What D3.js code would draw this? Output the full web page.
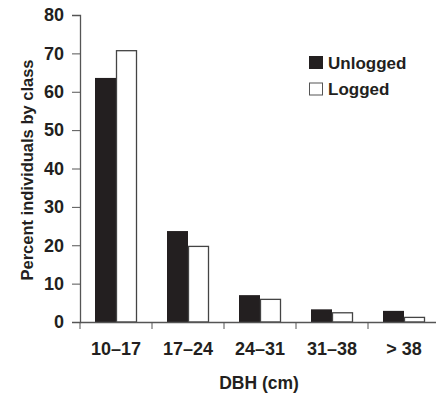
<!DOCTYPE html>
<html>
<head>
<meta charset="utf-8">
<script src="https://cdn.jsdelivr.net/npm/d3@7"></script>
<style>
  body { margin: 0; background: #fff; }
  text { font-family: "Liberation Sans", Arial, sans-serif; font-weight: bold; fill: #231f20; }
</style>
</head>
<body>
<div class="chart"></div>
<script>
// data
const classes = ["10\u201317", "17\u201324", "24\u201331", "31\u201338", "> 38"];
const unlogged = [63.6, 23.7, 7.0, 3.3, 2.9];
const logged = [70.7, 19.7, 5.9, 2.4, 1.2];
const yTicks = [0, 10, 20, 30, 40, 50, 60, 70, 80];
const seriesNames = ["Unlogged", "Logged"];

const width = 436, height = 396;
const margin = {top: 15, right: 0, bottom: 74, left: 80};

const svg = d3.select(".chart").append("svg")
  .attr("width", width)
  .attr("height", height);

const x = d3.scaleBand()
  .domain(classes)
  .range([margin.left, margin.left + 72 * classes.length]);

const y = d3.scaleLinear()
  .domain([0, 80])
  .range([height - margin.bottom, margin.top]);

const barW = 21;
const axisColor = "#555";

// bars
const groups = svg.append("g").selectAll("g")
  .data(classes)
  .join("g")
  .attr("transform", d => `translate(${x(d) + x.bandwidth() / 2},0)`);

groups.append("rect")
  .attr("x", -barW)
  .attr("width", barW)
  .attr("y", (d, i) => y(unlogged[i]))
  .attr("height", (d, i) => y(0) - y(unlogged[i]))
  .attr("fill", "#231f20");

groups.append("rect")
  .attr("x", 0.5)
  .attr("width", barW - 1)
  .attr("y", (d, i) => y(logged[i]))
  .attr("height", (d, i) => y(0) - y(logged[i]))
  .attr("fill", "#fff")
  .attr("stroke", "#444")
  .attr("stroke-width", 1.3);

// y axis
const yAxis = svg.append("g")
  .attr("transform", `translate(${margin.left},0)`)
  .call(d3.axisLeft(y).tickValues(yTicks).tickSize(8).tickPadding(8));
yAxis.selectAll("text").style("font-size", "18px");

// x axis, ticks between the categories
const xAxis = svg.append("g")
  .attr("transform", `translate(0,${y(0)})`)
  .call(d3.axisBottom(x).tickSize(0).tickPadding(20));
xAxis.selectAll("text").style("font-size", "18px");
xAxis.selectAll(".sep")
  .data(classes)
  .join("line")
  .attr("class", "sep")
  .attr("x1", d => x(d))
  .attr("x2", d => x(d))
  .attr("y1", 0)
  .attr("y2", 7)
  .attr("stroke", axisColor);

svg.selectAll(".domain").attr("stroke", axisColor).attr("stroke-width", 1.3);
svg.selectAll(".tick line").attr("stroke", axisColor);

// axis titles
svg.append("text")
  .attr("transform", `translate(33,170) rotate(-90)`)
  .attr("text-anchor", "middle")
  .style("font-size", "16.5px")
  .text("Percent individuals by class");

svg.append("text")
  .attr("x", x(classes[2]) + x.bandwidth() / 2 - 1)
  .attr("y", 389)
  .attr("text-anchor", "middle")
  .style("font-size", "17.5px")
  .text("DBH (cm)");

// legend
const legend = svg.append("g").attr("transform", "translate(309,56)");
seriesNames.forEach((name, i) => {
  const g = legend.append("g").attr("transform", `translate(0,${i * 26.5})`);
  g.append("rect")
    .attr("x", 0.5).attr("y", 0.5)
    .attr("width", 13).attr("height", 12)
    .attr("fill", i === 0 ? "#231f20" : "#fff")
    .attr("stroke", i === 0 ? "#231f20" : "#555");
  g.append("text")
    .attr("x", 19)
    .attr("y", 12.5)
    .style("font-size", "17px")
    .text(name);
});
</script>
</body>
</html>
